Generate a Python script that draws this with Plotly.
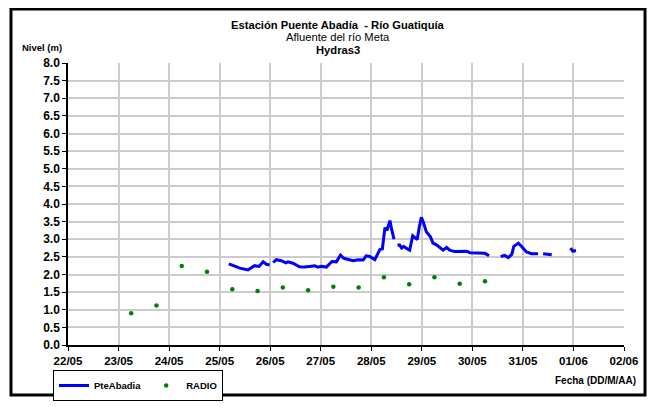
import plotly.graph_objects as go

# --- Data ---
pte_times = [
    "2010-05-25 04:20", "2010-05-25 09:36", "2010-05-25 13:26", "2010-05-25 16:34",
    "2010-05-25 18:43", "2010-05-25 20:38", "2010-05-25 22:12", "2010-05-25 23:46",
    "2010-05-26 00:30",
    "2010-05-26 01:26", "2010-05-26 02:53", "2010-05-26 05:17", "2010-05-26 07:26",
    "2010-05-26 08:24", "2010-05-26 10:48", "2010-05-26 13:55", "2010-05-26 16:05",
    "2010-05-26 18:43", "2010-05-26 21:07", "2010-05-26 22:41", "2010-05-27 00:17",
    "2010-05-27 02:41", "2010-05-27 05:17", "2010-05-27 07:26", "2010-05-27 09:22",
    "2010-05-27 10:58", "2010-05-27 13:41", "2010-05-27 15:22", "2010-05-27 17:46",
    "2010-05-27 20:10", "2010-05-27 21:36", "2010-05-27 23:17", "2010-05-28 01:41",
    "2010-05-28 04:05", "2010-05-28 05:17", "2010-05-28 06:29", "2010-05-28 07:26",
    "2010-05-28 08:53", "2010-05-28 09:36", "2010-05-28 10:48",
    "2010-05-28 11:45",
    "2010-05-28 12:29", "2010-05-28 13:26", "2010-05-28 14:24", "2010-05-28 15:22",
    "2010-05-28 17:02", "2010-05-28 18:14", "2010-05-28 19:41", "2010-05-28 20:38",
    "2010-05-28 21:50", "2010-05-28 22:48", "2010-05-28 23:46", "2010-05-29 00:43",
    "2010-05-29 02:10", "2010-05-29 04:05", "2010-05-29 05:17", "2010-05-29 06:58",
    "2010-05-29 08:53", "2010-05-29 10:05", "2010-05-29 11:46", "2010-05-29 13:12",
    "2010-05-29 15:36", "2010-05-29 21:22", "2010-05-29 22:48", "2010-05-30 03:36",
    "2010-05-30 06:00", "2010-05-30 07:55",
    "2010-05-30 10:48",
    "2010-05-30 13:26", "2010-05-30 15:22", "2010-05-30 17:02", "2010-05-30 18:43",
    "2010-05-30 19:41", "2010-05-30 21:50", "2010-05-30 23:17", "2010-05-31 01:41",
    "2010-05-31 04:05", "2010-05-31 07:12",
    "2010-05-31 08:24",
    "2010-05-31 09:36", "2010-05-31 13:41",
    "2010-05-31 18:00",
    "2010-05-31 22:34", "2010-05-31 23:46", "2010-06-01 01:12",
]
pte_values = [
    2.30, 2.18, 2.13, 2.25, 2.23, 2.36, 2.29, 2.27,
    None,
    2.34, 2.42, 2.39, 2.33, 2.36, 2.32, 2.22, 2.21,
    2.23, 2.25, 2.21, 2.23, 2.21, 2.37, 2.36, 2.55,
    2.46, 2.42, 2.39, 2.42, 2.41, 2.53, 2.51, 2.42,
    2.71, 2.73, 3.33, 3.25, 3.53, 3.30, 3.00,
    None,
    2.83, 2.84, 2.75, 2.80, 2.73, 2.69, 3.10, 3.05,
    2.99, 3.35, 3.62, 3.48, 3.21, 3.07, 2.89, 2.84,
    2.75, 2.69, 2.77, 2.69, 2.65, 2.66, 2.62, 2.62,
    2.60, 2.53,
    None,
    2.51, 2.54, 2.48, 2.57, 2.80, 2.89, 2.80, 2.64,
    2.59, 2.59,
    None,
    2.59, 2.56,
    None,
    2.75, 2.66, 2.68,
]

radio_times = [
    "2010-05-23 06:00", "2010-05-23 18:00", "2010-05-24 06:00", "2010-05-24 18:00",
    "2010-05-25 06:00", "2010-05-25 18:00", "2010-05-26 06:00", "2010-05-26 18:00",
    "2010-05-27 06:00", "2010-05-27 18:00", "2010-05-28 06:00", "2010-05-28 18:00",
    "2010-05-29 06:00", "2010-05-29 18:00", "2010-05-30 06:00",
]
radio_values = [0.90, 1.12, 2.24, 2.08, 1.58, 1.53, 1.63, 1.55,
                1.65, 1.63, 1.92, 1.72, 1.92, 1.74, 1.81]

x_range = ["2010-05-22", "2010-06-02"]
y_range = [0, 8]

FONT = "Liberation Sans, Arial, sans-serif"

fig = go.Figure()
fig.add_trace(go.Scatter(
    x=pte_times, y=pte_values, mode="lines", name="PteAbadia",
    line=dict(color="#0000ff", width=3), connectgaps=False,
))
fig.add_trace(go.Scatter(
    x=radio_times, y=radio_values, mode="markers", name="RADIO",
    marker=dict(color="#008000", size=4.5),
))

# page body has an 8px margin: the figure starts at (8, 8) in the window
OFF = 8
W, H = 656 - OFF, 413 - OFF
# plot area in window pixels: x 68.5..624, y 63.5..355.5
PL, PR, PT, PB = 68, 624, 63, 356
L, R, T, B = PL - OFF, W - (PR - OFF), PT - OFF, H - (PB - OFF)
pw, ph = W - L - R, H - T - B


def px(x):
    return (x - OFF - L) / pw


def py(y):
    return (H - B - (y - OFF)) / ph


fig.update_layout(
    width=W, height=H,
    margin=dict(l=L, r=R, t=T, b=B),
    paper_bgcolor="white", plot_bgcolor="white",
    font=dict(family=FONT, color="black", size=11),
    showlegend=True,
    legend=dict(
        orientation="h", x=px(53), y=py(382), xanchor="left", yanchor="top",
        bordercolor="black", borderwidth=1, bgcolor="white",
        font=dict(family=FONT, size=9.5, weight="bold"),
        itemwidth=30, tracegroupgap=0,
    ),
    xaxis=dict(
        type="date", range=x_range, dtick=86400000, tick0="2010-05-22",
        tickformat="%d/%m", showgrid=True, gridcolor="#cccccc", gridwidth=1.5,
        showline=True, linecolor="black", linewidth=1.5,
        ticks="outside", ticklen=4, tickcolor="black",
        tickfont=dict(family=FONT, size=11.5, weight="bold"),
        zeroline=False, fixedrange=True,
    ),
    yaxis=dict(
        range=y_range, dtick=0.5, tick0=0, tickformat=".1f",
        showgrid=True, gridcolor="#cccccc", gridwidth=1.5,
        showline=True, linecolor="black", linewidth=1.5,
        ticks="outside", ticklen=4, tickcolor="black",
        tickfont=dict(family=FONT, size=12, weight="bold"),
        zeroline=False, fixedrange=True,
    ),
)

ann = [
    dict(text="<b>Estación Puente Abadía  - Río Guatiquía</b>", x=px(338), y=py(23), size=11.2),
    dict(text="Afluente del río Meta", x=px(338), y=py(36), size=11.2),
    dict(text="<b>Hydras3</b>", x=px(338), y=py(49), size=11.2),
]
for a in ann:
    fig.add_annotation(text=a["text"], x=a["x"], y=a["y"], xref="paper", yref="paper",
                       xanchor="center", yanchor="middle", showarrow=False,
                       font=dict(family=FONT, size=a["size"], color="black"))

fig.add_annotation(text="<b>Nivel (m)</b>", x=px(20), y=py(47), xref="paper", yref="paper",
                   xanchor="left", yanchor="middle", showarrow=False,
                   font=dict(family=FONT, size=9.5, color="black"))
fig.add_annotation(text="<b>Fecha (DD/M/AA)</b>", x=px(638), y=py(393), xref="paper", yref="paper",
                   xanchor="right", yanchor="middle", showarrow=False,
                   font=dict(family=FONT, size=10, color="black"))

# outer frame
fig.add_shape(type="rect", xref="paper", yref="paper",
              x0=px(11), x1=px(645), y0=py(408), y1=py(7),
              line=dict(color="black", width=3), layer="above")

fig.write_html("out.html")
